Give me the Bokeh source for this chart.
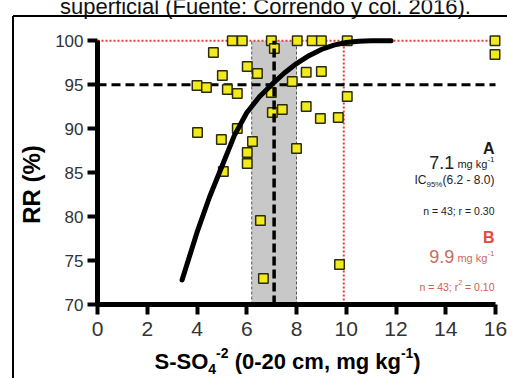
import numpy as np
from bokeh.plotting import figure
from bokeh.models import Range1d, FixedTicker, Label, Arrow
from bokeh.embed import file_html
from bokeh.resources import INLINE

# ---------------- data ----------------
x_ticks = [0, 2, 4, 6, 8, 10, 12, 14, 16]
y_ticks = [70, 75, 80, 85, 90, 95, 100]

s_so4 = [5.42, 5.82, 6.99, 8.03, 8.63, 9.0, 10.04, 15.98,
         4.66, 7.11, 6.02, 6.43, 5.02, 4.0, 4.38, 5.22, 5.62, 7.83, 6.99,
         8.39, 9.0, 10.04, 7.03, 7.43, 8.39, 8.96, 9.68, 5.62, 4.02, 4.98,
         6.23, 6.02, 6.02, 5.06, 8.0, 6.55, 6.67, 9.73, 15.98]
rr = [100, 100, 100, 100, 100, 100, 100, 100,
      98.66, 99.11, 97.06, 96.27, 96.04, 94.9, 94.68, 94.45, 93.99, 95.36, 94.1,
      96.4, 96.5, 93.65, 91.83, 92.17, 92.52, 91.15, 91.26, 90.01, 89.56, 88.76,
      88.54, 87.28, 86.03, 85.12, 87.74, 79.55, 72.96, 74.55, 98.43]

fit_x = [3.4, 4.0, 4.5, 5.0, 5.5, 6.0, 6.5, 7.0, 7.5, 8.0, 8.5, 9.0, 9.5, 10.0, 10.5, 11.0, 11.8]
fit_y = [72.8, 78.2, 82.2, 85.7, 89.2, 91.8, 93.6, 95.0, 96.3, 97.4, 98.3, 99.0, 99.5, 99.8, 99.95, 100.0, 100.0]

ic_low, ic_high = 6.2, 8.0
crit_a = 7.1
crit_b = 9.9
rr_target = 95
rr_max = 100

# ---------------- geometry ----------------
# the plotting frame covers the whole canvas; axes are pinned at x=0 / y=70
W, H = 507, 378
SX = 398.0 / 16.0           # px per x unit
SY = 263.8 / 30.0           # px per y unit
X0 = -97.0 / SX
X1 = X0 + W / SX
Y1 = 100.0 + 40.2 / SY
Y0 = Y1 - H / SY


def dx(px):
    return X0 + px / SX


def dy(py):
    return Y1 - py / SY


FONT = "Liberation Sans"
REG = {' ': 278, '(': 333, ')': 333, '-': 333, '.': 278, ',': 278, ';': 278, '=': 584, '%': 889,
       'A': 667, 'B': 667, 'C': 722, 'I': 278, 'R': 722, 'S': 667, 'O': 778,
       'a': 556, 'c': 500, 'e': 556, 'g': 556, 'k': 500, 'm': 833, 'n': 556, 'r': 333}
BOLD = {' ': 278, '(': 333, ')': 333, '-': 333, '.': 278, ',': 278, '%': 889,
        'A': 722, 'B': 722, 'C': 722, 'R': 722, 'S': 667, 'O': 778,
        'c': 556, 'g': 611, 'k': 556, 'm': 889, 'n': 611, 'r': 389}


def tw(s, size, bold=False):
    tab = BOLD if bold else REG
    return sum((556 if ch.isdigit() else tab.get(ch, 556)) for ch in s) * size / 1000.0


p = figure(width=W, height=H, output_backend="svg", toolbar_location=None,
           x_range=Range1d(X0, X1), y_range=Range1d(Y0, Y1), title=None)
p.min_border = 0
p.outline_line_color = None
p.xgrid.visible = False
p.ygrid.visible = False
p.background_fill_color = "white"
p.border_fill_color = "white"


def dlabel(px, py, text, size, bold=False, color="#222222", align="left",
           baseline="alphabetic", angle=0.0):
    if baseline == "alphabetic":
        py = py - 0.28 * size   # compensate the renderer's baseline offset
    p.add_layout(Label(x=dx(px), y=dy(py), text=text,
                       text_font=FONT, text_font_size=f"{size}px",
                       text_font_style="bold" if bold else "normal",
                       text_color=color, text_align=align,
                       text_baseline=baseline, angle=angle))


def add_run(pieces, baseline_py, x_left=None, x_right=None, color="#222222"):
    widths = [tw(t, s, b) for t, s, b, off in pieces]
    if x_left is None:
        x_left = x_right - sum(widths)
    cur = x_left
    for (t, s, b, off), w in zip(pieces, widths):
        lead = len(t) - len(t.lstrip(' '))
        txt = t.strip(' ')
        if txt:
            dlabel(cur + tw(' ' * lead, s, b), baseline_py + off, txt, s, b, color)
        cur += w


# gray confidence band
p.quad(left=[ic_low], right=[ic_high], bottom=[70], top=[rr_max],
       fill_color="#c8c8c8", line_color=None)
p.segment(x0=[ic_low, ic_high], y0=[70, 70], x1=[ic_low, ic_high], y1=[rr_max, rr_max],
          line_color="#555555", line_width=1, line_dash="3 2")

# red dotted references
p.line([0, 16], [rr_max, rr_max], line_color="#e03c3c", line_width=2, line_dash="2 2")
p.line([crit_b, crit_b], [70, rr_max], line_color="#e03c3c", line_width=2, line_dash="2 2")

# black dashed 95 line
p.line([0, 16], [rr_target, rr_target], line_color="black", line_width=3, line_dash="9 5")

# scatter
p.scatter(s_so4, rr, marker="square", size=9.5, fill_color="#f2ea1a",
          line_color="#2b2b14", line_width=1.5)

# vertical dashed at critical level
p.line([crit_a, crit_a], [70, rr_max], line_color="black", line_width=3.5, line_dash="9 4")

# fitted curve
p.line(fit_x, fit_y, line_color="black", line_width=5, line_cap="round")

# axes, pinned to x=0 and y=70
p.yaxis.fixed_location = 0
p.xaxis.fixed_location = 70
for ax, ticks in ((p.xaxis, x_ticks), (p.yaxis, y_ticks)):
    ax.ticker = FixedTicker(ticks=ticks)
    ax.bounds = (ticks[0], ticks[-1])
    ax.axis_line_width = 5
    ax.axis_line_color = "black"
    ax.major_tick_line_width = 4
    ax.major_tick_line_color = "black"
    ax.major_tick_out = 10
    ax.major_tick_in = 0
    ax.minor_tick_line_color = None
    ax.major_label_text_font = FONT
    ax.major_label_text_color = "#333333"
p.xaxis.major_label_text_font_size = "21px"
p.xaxis.major_label_standoff = 7
p.yaxis.major_label_text_font_size = "17px"
p.yaxis.major_label_standoff = 4

# axis titles
dlabel(31, 184, "RR (%)", 24, True, "black", align="center", baseline="middle", angle=np.pi / 2)
add_run([("S-SO", 22, True, 0), ("4", 14, True, 5), ("-2", 14, True, -11),
         (" (0-20 cm, mg kg", 22, True, 0), ("-1", 14, True, -11), (")", 22, True, 0)],
        baseline_py=367, x_left=154, color="black")

# caption (clipped at top)
dlabel(265, 12.5, "superficial (Fuente: Correndo y col. 2016).", 22, False, "#111111",
       align="center")

# outer frame lines
p.add_layout(Arrow(end=None, x_start=dx(12.5), y_start=dy(15.5), x_end=dx(560), y_end=dy(15.5),
                   line_color="black", line_width=2))
p.add_layout(Arrow(end=None, x_start=dx(12.5), y_start=dy(15.5), x_end=dx(12.5), y_end=dy(420),
                   line_color="black", line_width=2))

# annotation block A
R = 494
add_run([("A", 16, True, 0)], baseline_py=152, x_right=R, color="#1a1a1a")
add_run([("7.1", 18, False, 0), (" mg kg", 11, False, 0), ("-1", 8, False, -6)],
        baseline_py=167, x_right=R, color="#222222")
add_run([("IC", 12, False, 0), ("95%", 8, False, 3), ("(6.2 - 8.0)", 12, False, 0)],
        baseline_py=183, x_right=R, color="#222222")
add_run([("n = 43; r = 0.30", 10.5, False, 0)], baseline_py=213, x_right=R, color="#222222")

# annotation block B
add_run([("B", 16, True, 0)], baseline_py=241, x_right=R, color="#e8473d")
add_run([("9.9", 18, False, 0), (" mg kg", 11, False, 0), ("-1", 8, False, -6)],
        baseline_py=261, x_right=R, color="#c86a5e")
add_run([("n = 43; r", 10.5, False, 0), ("2", 7, False, -5), (" = 0.10", 10.5, False, 0)],
        baseline_py=289, x_right=R, color="#d45a50")

open("out.html", "w").write(file_html(p, INLINE))
